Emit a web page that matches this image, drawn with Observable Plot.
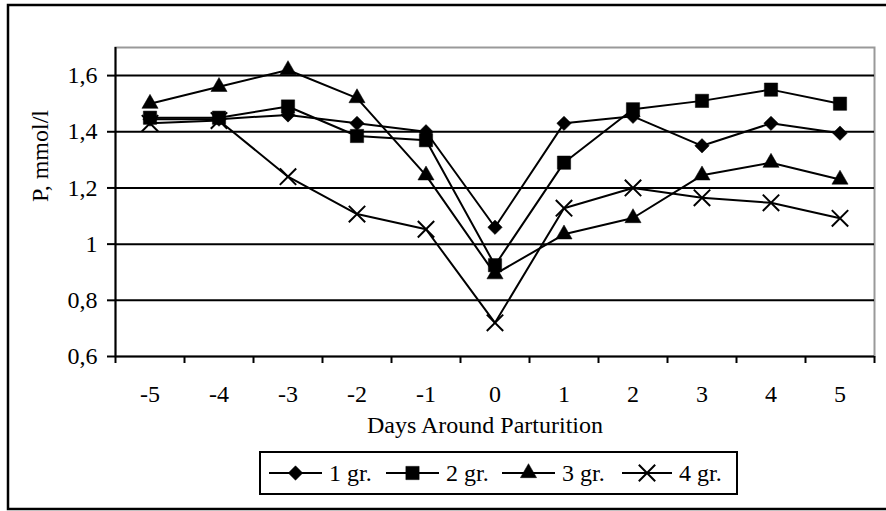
<!DOCTYPE html>
<html><head><meta charset="utf-8">
<script src="https://cdn.jsdelivr.net/npm/d3@7"></script>
<script src="https://cdn.jsdelivr.net/npm/@observablehq/plot@0.6"></script>
<style>body{margin:0;background:#fff} svg{display:block}</style>
</head><body><div id="chart"></div>
<script>
const days = [-5,-4,-3,-2,-1,0,1,2,3,4,5];
const groups = ["1 gr.","2 gr.","3 gr.","4 gr."];
const g1 = [1.445,1.445,1.46,1.43,1.40,1.06,1.43,1.455,1.35,1.43,1.395];
const g2 = [1.45,1.45,1.49,1.385,1.37,0.925,1.29,1.48,1.51,1.55,1.50];
const g3 = [1.50,1.56,1.62,1.52,1.245,0.893,1.035,1.093,1.245,1.29,1.23];
const g4 = [1.43,1.44,1.24,1.107,1.053,0.72,1.128,1.20,1.165,1.147,1.092];
const yTicks = [0.6,0.8,1,1.2,1.4,1.6];
const symbols = ["diamond2","square","triangle","times"];
const symbolR = [6.5,7.5,6,7.5];

const series = [g1,g2,g3,g4];
const rows = days.flatMap((d,i) => groups.map((g,k) => ({day:d, group:g, value:series[k][i]})));
const bounds = days.map(d => d - 0.5).concat([days[days.length-1] + 0.5]);
const fmt = v => (v === 1 ? "1" : v.toFixed(1).replace(".", ","));
const FONT = "'Liberation Serif', 'Times New Roman', serif";

const W = 886, H = 511;
const plot = Plot.plot({
  width: W, height: H,
  marginLeft: 115, marginRight: 12, marginTop: 47, marginBottom: 155,
  style: {fontFamily: FONT, fontSize: "24px", color: "black", background: "white"},
  x: {domain: [bounds[0], bounds[bounds.length-1]]},
  y: {domain: [0.6, 1.7]},
  marks: [
    Plot.frame({stroke: "#999", strokeWidth: 2}),
    Plot.ruleY(yTicks, {stroke: "black", strokeWidth: 2}),
    Plot.ruleX([bounds[0]], {stroke: "black", strokeWidth: 2}),
    Plot.axisY({ticks: yTicks, tickFormat: fmt, tickSize: 8, tickPadding: 10, strokeWidth: 2, label: null, fontSize: 24}),
    Plot.axisX({ticks: bounds, tickFormat: () => "", tickSize: 7, strokeWidth: 2, label: null}),
    Plot.axisX({ticks: days, tickFormat: d => String(d), tickSize: 0, tickPadding: 28, label: null, fontSize: 24}),
    Plot.text(["P, mmol/l"], {frameAnchor: "left", dx: -75, rotate: -90, fontSize: 24, lineAnchor: "middle"}),
    Plot.text(["Days Around Parturition"], {frameAnchor: "bottom", dx: -10, dy: 69, fontSize: 24, lineAnchor: "middle"}),
    Plot.line(rows, {x: "day", y: "value", z: "group", stroke: "black", strokeWidth: 2}),
    ...groups.map((g,k) => Plot.dot(rows.filter(r => r.group === g), {
      x: "day", y: "value", symbol: () => symbols[k], r: symbolR[k],
      fill: symbols[k] === "times" ? "none" : "black",
      stroke: "black", strokeWidth: symbols[k] === "times" ? 2 : 0.5
    }))
  ]
});

const svg = d3.select(plot);
// outer chart border
svg.append("rect").attr("x", 8).attr("y", 5).attr("width", 900).attr("height", 504)
  .attr("fill", "none").attr("stroke", "black").attr("stroke-width", 2.5);
// legend
const leg = svg.append("g").attr("font-family", FONT).attr("font-size", 24).attr("text-anchor", "start");
leg.append("rect").attr("x", 260).attr("y", 452).attr("width", 477).attr("height", 42)
  .attr("fill", "white").attr("stroke", "black").attr("stroke-width", 2);
const d3sym = {diamond2: d3.symbolDiamond2, square: d3.symbolSquare, triangle: d3.symbolTriangle, times: d3.symbolTimes};
const legX = [269, 386, 502, 622];
const legY = 473;
groups.forEach((g,k) => {
  const x0 = legX[k];
  const x1 = k === 3 ? x0 + 50 : x0 + 53;
  const cx = (x0 + x1) / 2;
  leg.append("line").attr("x1", x0).attr("x2", x1).attr("y1", legY).attr("y2", legY)
    .attr("stroke", "black").attr("stroke-width", 2);
  const r = symbolR[k];
  leg.append("path").attr("transform", `translate(${cx},${legY})`)
    .attr("d", d3.symbol(d3sym[symbols[k]], r * r * Math.PI)())
    .attr("fill", symbols[k] === "times" ? "none" : "black")
    .attr("stroke", "black").attr("stroke-width", symbols[k] === "times" ? 2 : 0.5);
  leg.append("text").attr("x", x1 + 7).attr("y", legY).attr("dy", "0.35em")
    .attr("text-anchor", "start").text(g);
});

document.getElementById("chart").appendChild(plot);
</script>
</body></html>
